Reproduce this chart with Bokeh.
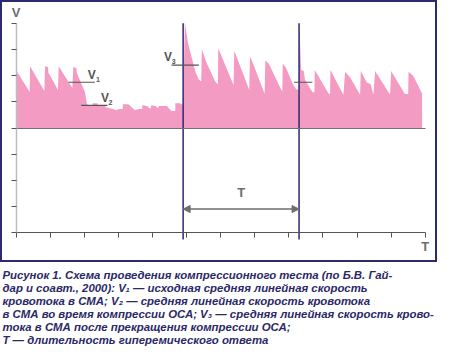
from bokeh.plotting import figure
from bokeh.models import LinearAxis, FixedTicker, Arrow, NormalHead, ColumnDataSource
from bokeh.layouts import column
from bokeh.core.properties import value
from bokeh.embed import file_html
from bokeh.resources import INLINE

# ---- data (time in tick units, velocity in tick units) ----
baseline = 4.0
t_flow = [0, 0.40, 0.41, 0.83, 0.85, 0.94, 0.95, 1.23, 1.25, 1.65, 1.68, 1.77, 1.78, 2.02, 2.08,
          2.19, 2.25, 2.25, 2.39, 2.39, 2.62, 2.62, 2.85, 2.91, 3.05, 3.13, 3.13, 3.30, 3.39, 3.48,
          3.62, 3.70, 3.70, 3.85, 3.90, 3.96, 3.96, 4.10, 4.15, 4.19, 4.42, 4.50, 4.56, 4.67, 4.67,
          4.81, 4.84, 4.90,
          4.95, 5.04, 5.16, 5.27, 5.36, 5.43, 5.45, 5.58, 5.84, 5.92, 5.93, 6.38, 6.40, 6.84, 6.86,
          6.95, 7.29, 7.31, 7.41, 7.78, 7.81, 7.82, 7.92, 8.12, 8.21, 8.29,
          8.31, 8.36, 8.44, 8.47, 8.69, 8.75, 8.76, 9.17, 9.21, 9.22, 9.60, 9.65, 9.80, 10.09, 10.11,
          10.28, 10.40, 10.48, 10.53, 10.97, 11.00, 11.40, 11.50, 11.51, 11.65, 11.91]
v_flow = [6.22, 5.38, 6.36, 5.42, 6.36, 6.33, 6.11, 5.45, 6.36, 5.53, 6.33, 6.29, 6.11, 5.38, 4.91,
          4.84, 4.84, 4.95, 4.95, 4.84, 4.84, 4.80, 4.73, 4.69, 4.73, 4.73, 4.91, 4.91, 4.80, 4.69,
          4.73, 4.73, 4.87, 4.84, 4.76, 4.76, 4.87, 4.84, 4.76, 4.84, 4.84, 4.73, 4.65, 4.65, 4.95,
          4.95, 4.91, 4.91,
          8.04, 7.27, 6.65, 6.11, 5.85, 5.78, 7.02, 6.51, 5.78, 5.67, 7.05, 5.64, 6.95, 5.45, 6.73,
          6.47, 5.31, 6.58, 6.47, 5.45, 5.42, 6.47, 6.29, 5.67, 5.49, 5.45,
          7.96, 6.22, 6.18, 5.85, 5.38, 5.36, 6.22, 5.31, 5.29, 6.22, 5.27, 6.15, 5.93, 5.27, 6.18,
          5.75, 5.67, 5.27, 6.18, 5.27, 6.18, 5.31, 5.29, 6.15, 6.00, 5.31]

x_ticks = list(range(13))
y_ticks = list(range(9))

event_times = [4.90, 8.30]          # start and end of compression release markers
event_top = 8.0
event_bottom = -0.25
arrow_level = 0.91

mean_t0 = [1.54, 1.91, 4.56, 8.15]
mean_t1 = [2.31, 2.68, 5.36, 8.69]
mean_v = [5.75, 4.87, 6.40, 5.75]

lab_t = [2.22, 2.61, 4.46]
lab_v = [6.04, 5.16, 6.73]
sub_t = [2.40, 2.77, 4.62]
sub_v = [5.84, 4.99, 6.53]
sub_text = ["1", "2", "3"]

caption_lines = [
    "Рисунок 1. Схема проведения компрессионного теста (по Б.В. Гай-",
    "дар и соавт., 2000): V₁ — исходная средняя линейная скорость",
    "кровотока в СМА; V₂ — средняя линейная скорость кровотока",
    "в СМА во время компрессии ОСА; V₃ — средняя линейная скорость крово-",
    "тока в СМА после прекращения компрессии ОСА;",
    "T — длительность гиперемического ответа",
]

NAVY = "#2C2A6C"
PINK = "#F49BC4"
GRAY = "#6E6E6E"

p = figure(width=437, height=262, x_range=(-0.456, 12.36), y_range=(-1.13, 8.87),
           x_axis_location=None, y_axis_location=None, toolbar_location=None,
           output_backend="svg", min_border=0)
p.grid.visible = False
p.outline_line_color = NAVY
p.outline_line_width = 3
p.background_fill_color = "white"
p.border_fill_color = "white"

p.varea(x=t_flow, y1=baseline, y2=v_flow, fill_color=PINK)

# axes
yax = LinearAxis(fixed_location=0, bounds=(0, 8), ticker=FixedTicker(ticks=y_ticks))
xax = LinearAxis(fixed_location=0, bounds=(0, 12), ticker=FixedTicker(ticks=x_ticks))
bax = LinearAxis(fixed_location=baseline, bounds=(0, 12), ticker=FixedTicker(ticks=[]))
for ax in (yax, xax, bax):
    ax.major_tick_in = 0
    ax.major_tick_out = 5
    ax.minor_tick_line_color = None
    ax.major_label_text_font_size = "0px"
    ax.major_label_text_color = None
yax.axis_line_color = "#BDBDBD"
yax.axis_line_width = 1.5
yax.major_tick_line_color = "#555555"
xax.axis_line_color = "#555555"
xax.major_tick_line_color = "#555555"
bax.axis_line_color = "#6F6F80"
bax.major_tick_line_color = None
p.add_layout(yax, "left")
p.add_layout(xax, "below")
p.add_layout(bax, "below")

# event markers
p.segment(x0=event_times, y0=event_bottom, x1=event_times, y1=event_top,
          line_color=NAVY, line_width=1.5)

# mean level marks
p.segment(x0=mean_t0, y0=mean_v, x1=mean_t1, y1=mean_v, line_color="#555555", line_width=1.2)

# arrow for T
head = dict(size=7, fill_color=GRAY, line_color=GRAY)
p.add_layout(Arrow(start=NormalHead(**head), end=NormalHead(**head),
                   x_start=event_times[0], x_end=event_times[1],
                   y_start=arrow_level, y_end=arrow_level,
                   line_color=GRAY, line_width=1.5))

font = value("Liberation Sans")
p.text(x=lab_t, y=lab_v, text=["V", "V", "V"], text_font=font, text_font_style="bold",
       text_font_size="12px", text_color="#555555", text_align="center", text_baseline="middle")
p.text(x=sub_t, y=sub_v, text=sub_text, text_font=font, text_font_style="bold",
       text_font_size="7px", text_color="#555555", text_align="center", text_baseline="middle")

axis_lab = ColumnDataSource(dict(x=[0, 12, (event_times[0] + event_times[1]) / 2],
                                 y=[8.42, -0.52, 1.55], t=["V", "T", "T"]))
p.text(x="x", y="y", text="t", source=axis_lab, text_font=font, text_font_style="bold",
       text_font_size="13px", text_color=GRAY, text_align="center", text_baseline="middle")

# caption
cap = figure(width=437, height=84, x_range=(0, 437), y_range=(84, 0),
             x_axis_location=None, y_axis_location=None, toolbar_location=None,
             output_backend="svg", min_border=0)
cap.grid.visible = False
cap.outline_line_color = None
cap.text(x=[2] * len(caption_lines), y=[12 + 13.0 * i for i in range(len(caption_lines))],
         text=caption_lines, text_font=font, text_font_style="bold italic",
         text_font_size="11.4px", text_color="#2A2966", text_align="left", text_baseline="middle")

layout = column(p, cap, spacing=0)
open("out.html", "w").write(file_html(layout, INLINE))
